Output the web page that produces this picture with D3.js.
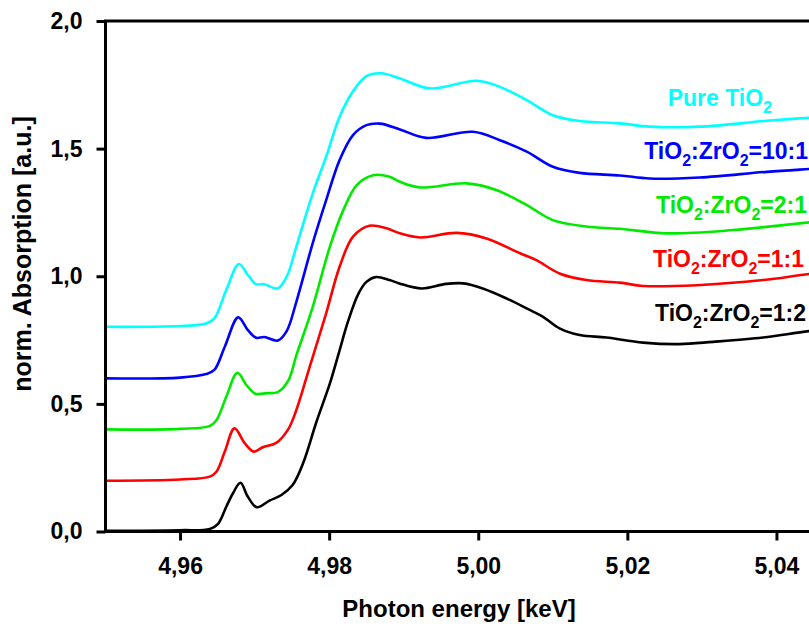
<!DOCTYPE html>
<html>
<head>
<meta charset="utf-8">
<script src="https://cdn.jsdelivr.net/npm/d3@7"></script>
<style>
  html, body { margin: 0; padding: 0; background: #fff; }
  svg { display: block; }
  text { font-family: "Liberation Sans", Arial, sans-serif; font-weight: bold; }
</style>
</head>
<body>
<svg id="chart" width="809" height="624"></svg>
<script>
// Ti K-edge XANES spectra, normalised, stacked with a vertical offset.
// Each series: [photon energy (keV), normalised absorption incl. offset]
const pureTiO2 = [[4.9500,0.802],[4.9600,0.805],[4.9635,0.815],[4.9646,0.835],[4.9662,0.946],[4.9679,1.048],[4.9691,1.005],[4.9702,0.969],[4.9713,0.969],[4.9731,0.952],[4.9743,0.998],[4.9756,1.116],[4.9778,1.325],[4.9796,1.468],[4.9814,1.625],[4.9832,1.725],[4.9850,1.784],[4.9870,1.795],[4.9895,1.775],[4.9935,1.736],[4.9998,1.766],[5.0029,1.742],[5.0065,1.690],[5.0100,1.631],[5.0136,1.608],[5.0190,1.599],[5.0230,1.586],[5.0297,1.586],[5.0387,1.609],[5.0444,1.621],[5.0500,1.630]];
const ratio10to1 = [[4.9500,0.600],[4.9600,0.603],[4.9635,0.617],[4.9646,0.633],[4.9660,0.724],[4.9678,0.839],[4.9691,0.789],[4.9702,0.759],[4.9713,0.762],[4.9731,0.748],[4.9743,0.785],[4.9756,0.900],[4.9778,1.130],[4.9796,1.298],[4.9814,1.455],[4.9832,1.553],[4.9850,1.592],[4.9868,1.598],[4.9895,1.575],[4.9930,1.542],[4.9993,1.566],[5.0029,1.533],[5.0065,1.488],[5.0100,1.429],[5.0136,1.405],[5.0190,1.395],[5.0230,1.383],[5.0297,1.387],[5.0387,1.409],[5.0444,1.420],[5.0500,1.430]];
const ratio2to1 = [[4.9500,0.400],[4.9600,0.402],[4.9640,0.414],[4.9649,0.437],[4.9662,0.528],[4.9677,0.622],[4.9689,0.574],[4.9701,0.540],[4.9716,0.542],[4.9731,0.546],[4.9745,0.590],[4.9756,0.690],[4.9778,0.880],[4.9801,1.116],[4.9819,1.259],[4.9837,1.357],[4.9859,1.396],[4.9881,1.390],[4.9895,1.370],[4.9922,1.348],[4.9984,1.364],[5.0024,1.338],[5.0065,1.279],[5.0100,1.220],[5.0145,1.195],[5.0190,1.186],[5.0253,1.168],[5.0342,1.181],[5.0444,1.211],[5.0500,1.225]];
const ratio1to1 = [[4.9500,0.199],[4.9600,0.204],[4.9640,0.215],[4.9649,0.235],[4.9660,0.313],[4.9673,0.404],[4.9687,0.345],[4.9699,0.313],[4.9711,0.330],[4.9729,0.347],[4.9745,0.400],[4.9756,0.476],[4.9774,0.646],[4.9796,0.855],[4.9814,1.037],[4.9832,1.155],[4.9854,1.198],[4.9877,1.188],[4.9895,1.168],[4.9922,1.152],[4.9971,1.170],[5.0011,1.148],[5.0056,1.090],[5.0078,1.063],[5.0109,1.011],[5.0145,0.985],[5.0190,0.975],[5.0221,0.962],[5.0293,0.965],[5.0382,0.985],[5.0444,1.009],[5.0500,1.025]];
const ratio1to2 = [[4.9500,0.003],[4.9600,0.005],[4.9640,0.010],[4.9651,0.030],[4.9662,0.097],[4.9671,0.150],[4.9681,0.191],[4.9691,0.136],[4.9703,0.095],[4.9720,0.121],[4.9736,0.143],[4.9751,0.182],[4.9765,0.267],[4.9783,0.430],[4.9801,0.580],[4.9814,0.710],[4.9825,0.820],[4.9839,0.930],[4.9850,0.978],[4.9863,0.997],[4.9881,0.985],[4.9894,0.972],[4.9924,0.952],[4.9957,0.970],[4.9980,0.972],[5.0006,0.952],[5.0038,0.913],[5.0069,0.868],[5.0087,0.841],[5.0109,0.796],[5.0136,0.770],[5.0172,0.760],[5.0221,0.740],[5.0270,0.734],[5.0315,0.743],[5.0382,0.760],[5.0444,0.785],[5.0500,0.800]];

const seriesNames = ["Pure TiO2", "TiO2:ZrO2=10:1", "TiO2:ZrO2=2:1", "TiO2:ZrO2=1:1", "TiO2:ZrO2=1:2"];
const seriesData = [pureTiO2, ratio10to1, ratio2to1, ratio1to1, ratio1to2];
const seriesColors = ["#00ffff", "#0000ff", "#00ea00", "#ff0000", "#000000"];

const xTicks = [4.96, 4.98, 5.00, 5.02, 5.04];
const yTicks = [0.0, 0.5, 1.0, 1.5, 2.0];
const xDomain = [4.95, 5.05];
const yDomain = [0, 2];

const xTitle = "Photon energy [keV]";
const yTitle = "norm. Absorption [a.u.]";

// German-style decimal comma
const locale = d3.formatLocale({ decimal: ",", thousands: ".", grouping: [3], currency: ["", ""] });
const fmtX = locale.format(".2f");
const fmtY = locale.format(".1f");

const svg = d3.select("#chart");
svg.append("rect").attr("width", 809).attr("height", 624).attr("fill", "#fff");

const plot = { left: 105.5, right: 851, top: 21, bottom: 531.5 };
const x = d3.scaleLinear().domain(xDomain).range([plot.left, plot.right]);
const y = d3.scaleLinear().domain(yDomain).range([plot.bottom, plot.top]);

// curves
const line = d3.line()
  .x(d => x(d[0]))
  .y(d => y(d[1]))
  .curve(d3.curveCatmullRom.alpha(0.5));

svg.append("clipPath").attr("id", "plotclip")
  .append("rect").attr("x", plot.left).attr("y", plot.top)
  .attr("width", plot.right - plot.left).attr("height", plot.bottom - plot.top);

svg.append("g").attr("clip-path", "url(#plotclip)")
  .selectAll("path")
  .data(seriesData)
  .join("path")
  .attr("d", line)
  .attr("fill", "none")
  .attr("stroke", (d, i) => seriesColors[i])
  .attr("stroke-width", 2.6)
  .attr("stroke-linejoin", "round");

// frame
svg.append("rect")
  .attr("x", plot.left).attr("y", plot.top)
  .attr("width", plot.right - plot.left).attr("height", plot.bottom - plot.top)
  .attr("fill", "none").attr("stroke", "#000").attr("stroke-width", 3);

// axes
const xAxis = svg.append("g")
  .attr("transform", `translate(0,${plot.bottom})`)
  .call(d3.axisBottom(x).tickValues(xTicks).tickFormat(fmtX).tickSize(9).tickPadding(17));
const yAxis = svg.append("g")
  .attr("transform", `translate(${plot.left},0)`)
  .call(d3.axisLeft(y).tickValues(yTicks).tickFormat(fmtY).tickSize(9).tickPadding(14));

[xAxis, yAxis].forEach(g => {
  g.select(".domain").remove();
  g.selectAll(".tick line").attr("stroke", "#000").attr("stroke-width", 3);
  g.selectAll(".tick text").attr("fill", "#000").style("font-size", "23px")
    .style("font-family", "'Liberation Sans', Arial, sans-serif").style("font-weight", "bold");
});

// axis titles
svg.append("text")
  .attr("x", 459).attr("y", 617)
  .attr("text-anchor", "middle")
  .style("font-size", "24px")
  .text(xTitle);
svg.append("text")
  .attr("transform", "translate(31,254) rotate(-90)")
  .attr("text-anchor", "middle")
  .style("font-size", "25px")
  .text(yTitle);

// series labels with subscripts
const labelPos = [[772, 106], [808, 159], [807, 213], [804, 267], [806, 321]];
seriesNames.forEach((name, i) => {
  const t = svg.append("text")
    .attr("x", labelPos[i][0]).attr("y", labelPos[i][1])
    .attr("text-anchor", "end")
    .attr("fill", seriesColors[i])
    .style("font-size", "23px");
  // oxide formula subscripts
  const parts = name.split(/(?<=O)2/);
  parts.forEach((p, j) => {
    t.append("tspan").attr("dy", j === 0 ? 0 : -7).text(p);
    if (j < parts.length - 1) {
      t.append("tspan").attr("dy", 7).style("font-size", "16px").text("2");
    }
  });
});
</script>
</body>
</html>
